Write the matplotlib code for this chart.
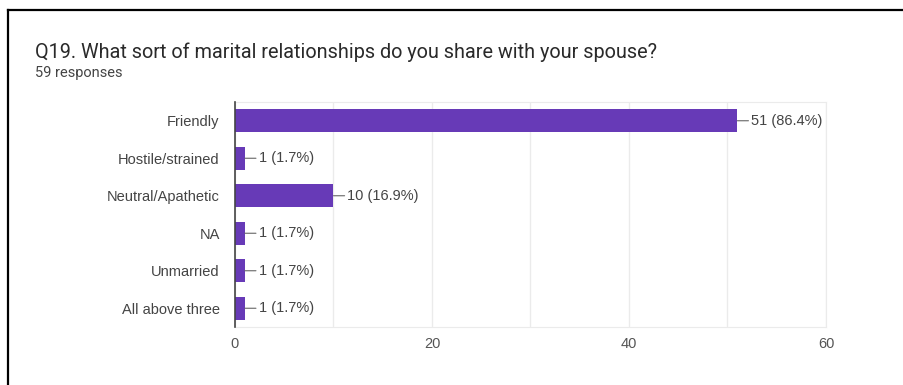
import matplotlib.pyplot as plt
from matplotlib.lines import Line2D

# survey answers, top to bottom
categories = ["Friendly", "Hostile/strained", "Neutral/Apathetic", "NA",
              "Unmarried", "All above three"]
counts = [51, 1, 10, 1, 1, 1]
percents = [86.4, 1.7, 16.9, 1.7, 1.7, 1.7]
x_ticks = [0, 20, 40, 60]
total = 59

plt.rcParams['font.family'] = ['Liberation Sans', 'DejaVu Sans']

fig = plt.figure(figsize=(9.04, 3.85), dpi=100)
ax = fig.add_axes([235 / 904, 1 - 327 / 385, (826 - 235) / 904, (327 - 102) / 385])

pos = list(range(len(categories)))
ax.barh(pos, counts, height=0.62, color="#673ab7", zorder=3)
ax.set_ylim(len(categories) - 0.5, -0.5)
ax.set_xlim(0, 60)

ax.set_yticks(pos)
ax.set_yticklabels(categories, fontsize=10.5, color="#444444")
ax.set_xticks(x_ticks)
ax.set_xticklabels([str(t) for t in x_ticks], fontsize=10.5, color="#555555")
ax.tick_params(axis="y", length=0, pad=11)
ax.tick_params(axis="x", length=0, pad=7)

# light vertical grid every 10
for v in range(0, 61, 10):
    ax.axvline(v, color="#ebebeb", lw=1, zorder=1)

for side in ["top", "right", "bottom"]:
    ax.spines[side].set_color("#ebebeb")
ax.spines["left"].set_color("#444444")
ax.spines["left"].set_linewidth(1.2)
ax.spines["left"].set_zorder(4)

# value labels with a short leader line
for p, c, pct in zip(pos, counts, percents):
    ax.annotate(f"{c} ({pct}%)", xy=(c, p), xytext=(10, 0), textcoords="offset points",
                va="center", ha="left", fontsize=10.5, color="#444444",
                arrowprops=dict(arrowstyle="-", color="#666666", lw=0.8,
                                shrinkA=0, shrinkB=0))

fig.text(35 / 904, 1 - 52 / 385, "Q19. What sort of marital relationships do you share with your spouse?",
         fontsize=14.3, color="#2a2a2a", va="center", ha="left", family=["Roboto", "DejaVu Sans"])
fig.text(35 / 904, 1 - 73 / 385, f"{total} responses", fontsize=10.5, color="#444444",
         va="center", ha="left", family=["Roboto", "DejaVu Sans"])

# frame lines on top and left
fig.add_artist(Line2D([8 / 904, 1], [1 - 10 / 385, 1 - 10 / 385], color="black", lw=1.6))
fig.add_artist(Line2D([8 / 904, 8 / 904], [0, 1 - 10 / 385], color="black", lw=1.6))

fig.savefig("out.png", dpi=100)
